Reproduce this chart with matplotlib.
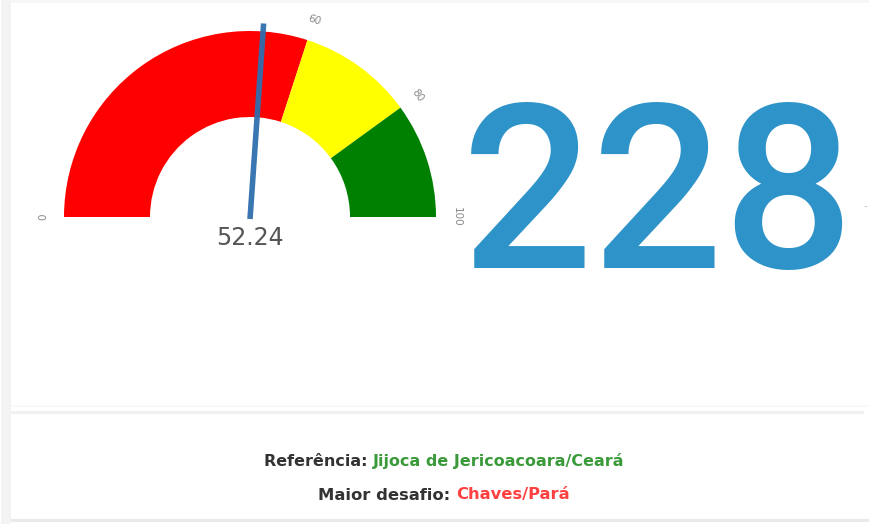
import numpy as np
import matplotlib
matplotlib.use("Agg")
import matplotlib.pyplot as plt
from matplotlib.patches import Wedge, Rectangle

# ---- data ----
gauge_min = 0
gauge_max = 100
band_edges = [0, 60, 80, 100]
band_colors = ["#ff0000", "#ffff00", "#008000"]
tick_values = [0, 60, 80, 100]
tick_labels = ["0", "60", "80", "100"]
gauge_value = 52.24
big_number = "228"
ref_label = "Referência:"
ref_value = "Jijoca de Jericoacoara/Ceará"
challenge_label = "Maior desafio:"
challenge_value = "Chaves/Pará"

W, H = 869, 524
fig = plt.figure(figsize=(W / 100, H / 100), dpi=100)
ax = fig.add_axes([0, 0, 1, 1])
ax.set_xlim(0, W)
ax.set_ylim(0, H)
ax.axis("off")

# panel frame (faint)
ax.add_patch(Rectangle((1, 0), 10, H, color="#f3f3f3", lw=0))
ax.add_patch(Rectangle((11, H - 3), W, 3, color="#f7f7f7", lw=0))
ax.add_patch(Rectangle((11, H - 407), W, 2, color="#f8f8f8", lw=0))
ax.add_patch(Rectangle((11, H - 414), W - 16, 3, color="#f1f1f1", lw=0))
ax.add_patch(Rectangle((11, 2), W, 3, color="#e9e9e9", lw=0))

# gauge geometry
cx, cy = 250, H - 217
r_out, r_in = 186, 100


def v2a(v):
    return 180.0 - (v - gauge_min) / (gauge_max - gauge_min) * 180.0


for lo, hi, col in zip(band_edges[:-1], band_edges[1:], band_colors):
    ax.add_patch(Wedge((cx, cy), r_out, v2a(hi), v2a(lo), width=r_out - r_in,
                       facecolor=col, edgecolor="none"))

# tick labels around the arc
for v, lab in zip(tick_values, tick_labels):
    a = np.deg2rad(v2a(v))
    rl = 207
    ax.text(cx + rl * np.cos(a), cy + rl * np.sin(a), lab, fontsize=7.5,
            color="#888888", ha="center", va="center",
            rotation=np.rad2deg(a) - 90, rotation_mode="anchor")

# needle
a = np.deg2rad(v2a(gauge_value))
ln = 194
ax.plot([cx, cx + ln * np.cos(a)], [cy - 2, cy + ln * np.sin(a)],
        color="#2f6fae", lw=4, solid_capstyle="butt", alpha=0.95)

# gauge value text
ax.text(cx, H - 238, f"{gauge_value:.2f}", fontsize=17, color="#555555",
        ha="center", va="center", family="DejaVu Sans")

# big number
ax.text(462, H - 268, big_number, fontsize=166, color="#2e93c9",
        ha="left", va="baseline", family="Roboto", weight="medium")
ax.text(866, H - 208, "·", fontsize=9, color="#999999", ha="center", va="center")

# footer texts
def two_part(y, left, right, color, xcenter=444, fs=11.5):
    t1 = ax.text(0, 0, left + " ", fontsize=fs, weight="bold", color="#333333")
    t2 = ax.text(0, 0, right, fontsize=fs, weight="bold", color=color)
    fig.canvas.draw()
    r = fig.canvas.get_renderer()
    w1 = t1.get_window_extent(r).width
    w2 = t2.get_window_extent(r).width
    x0 = xcenter - (w1 + w2) / 2
    t1.set_position((x0, H - y)); t1.set_va("center")
    t2.set_position((x0 + w1, H - y)); t2.set_va("center")


two_part(461, ref_label, ref_value, "#3a9a3a")
two_part(495, challenge_label, challenge_value, "#ff4040", fs=11.8)

fig.savefig("out.png", dpi=100, facecolor="white")
